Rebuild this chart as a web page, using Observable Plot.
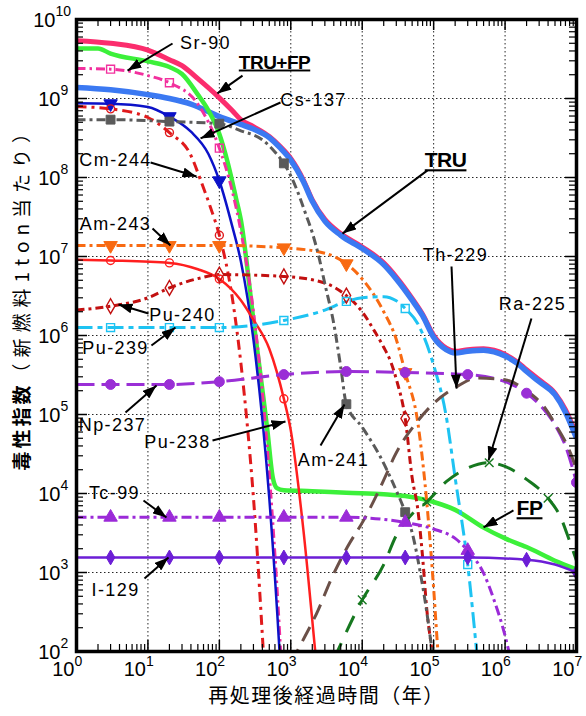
<!DOCTYPE html>
<html><head><meta charset="utf-8">
<script src="https://cdn.jsdelivr.net/npm/d3@7"></script>
<script src="https://cdn.jsdelivr.net/npm/@observablehq/plot@0.6"></script>
<style>body{margin:0;background:#fff;}</style>
</head><body><div id="chart"></div>
<script>
// ---- tick values ----
const X_MAJOR = [1, 10, 100, 1e3, 1e4, 1e5, 1e6, 1e7];
const Y_MAJOR = [1e2, 1e3, 1e4, 1e5, 1e6, 1e7, 1e8, 1e9, 1e10];
const X_GRID = [10, 100, 1e3, 1e4, 1e5, 1e6];
const Y_GRID = [1e3, 1e4, 1e5, 1e6, 1e7, 1e8, 1e9];

// ---- series: [years, toxicity index] ----
const TRU_FP = [[1,5.4e9],[3,5.0e9],[10,4.1e9],[20,3.1e9],[30,2.6e9],[50,1.78e9],[100,1.02e9],[150,7.1e8],[200,5.4e8],[300,4.4e8],[500,3.3e8],[700,2.5e8],[1000,1.74e8],[1500,9.3e7],[2000,5.2e7],[3000,2.95e7],[5000,1.95e7],[1e4,1.32e7],[2e4,8.3e6],[3e4,5.5e6],[5e4,2.95e6],[7e4,1.86e6],[1e5,1.0e6],[1.5e5,6.9e5],[2e5,6.3e5],[3e5,6.6e5],[5e5,6.8e5],[7e5,6.5e5],[1e6,5.75e5],[1.5e6,4.6e5],[2e6,3.7e5],[3e6,2.75e5],[5e6,1.86e5],[7e6,1.15e5],[1e7,5.5e4]];
const TRU = [[1,1.38e9],[3,1.29e9],[10,1.12e9],[20,1.0e9],[40,8.5e8],[100,5.9e8],[200,4.7e8],[300,4.1e8],[500,3.2e8],[700,2.4e8],[1000,1.66e8],[1500,8.9e7],[2000,5.0e7],[3000,2.8e7],[5000,1.86e7],[1e4,1.26e7],[2e4,7.9e6],[3e4,5.2e6],[5e4,2.8e6],[7e4,1.78e6],[1e5,9.5e5],[1.5e5,6.6e5],[2e5,6.0e5],[3e5,6.3e5],[5e5,6.5e5],[7e5,6.2e5],[1e6,5.5e5],[1.5e6,4.4e5],[2e6,3.5e5],[3e6,2.6e5],[5e6,1.78e5],[7e6,1.07e5],[1e7,5.0e4]];
const FP = [[1,4.3e9],[2,4.3e9],[3,3.7e9],[10,2.95e9],[20,2.5e9],[30,2.04e9],[50,1.12e9],[70,7.1e8],[100,3.55e8],[130,1.58e8],[170,5.6e7],[200,2.9e7],[300,1.55e6],[470,6.3e4],[560,1.58e4],[640,1.17e4],[800,1.1e4],[2000,1.07e4],[6000,1.02e4],[2e4,9.8e3],[4e4,9.3e3],[7e4,8.5e3],[1e5,7.8e3],[2e5,6.2e3],[5e5,3.7e3],[1e6,2.7e3],[2e6,2.1e3],[5e6,1.41e3],[1e7,1.1e3]];
const SR90 = [[1,2.4e9],[3,2.35e9],[10,1.95e9],[20,1.58e9],[50,8.5e8],[100,2.35e8],[150,7.0e7],[200,2.1e7],[300,2.0e6],[500,1.78e4],[720,1e2],[800,1.5e1]];
const CS137 = [[1,8.7e8],[3,8.6e8],[10,7.8e8],[20,5.9e8],[40,3.8e8],[70,2.0e8],[100,9.1e7],[150,2.5e7],[200,8.7e6],[300,8.9e5],[500,8.7e3],[700,9e1],[800,9]];
const CM244 = [[1,7.9e8],[3,7.4e8],[10,5.75e8],[20,3.7e8],[40,1.9e8],[55,9.1e7],[75,4.2e7],[100,1.86e7],[150,3.2e6],[200,4.5e5],[250,6.3e4],[300,8.9e3],[400,1.6e2],[450,2.5e1]];
const PU238 = [[1,9.1e6],[3,8.9e6],[20,8.3e6],[50,6.9e6],[100,5.2e6],[200,2.8e6],[300,1.58e6],[500,6.8e5],[800,1.58e5],[1000,6.3e4],[1500,3.5e3],[2200,1e2],[2500,3e1]];
const AM243 = [[1,1.38e7],[3,1.38e7],[20,1.38e7],[100,1.38e7],[800,1.29e7],[3000,1.1e7],[6000,8.1e6],[1e4,5.2e6],[2e4,2.0e6],[3e4,8.9e5],[4e4,3.4e5],[6e4,7.9e4],[8e4,7.9e3],[1e5,6.3e2],[1.15e5,1e2],[1.3e5,3.2e1]];
const PU240 = [[1,2.1e6],[3,2.35e6],[10,3.0e6],[20,4.0e6],[50,5.25e6],[100,5.9e6],[800,5.6e6],[3000,4.6e6],[6000,3.2e6],[1e4,2.0e6],[1.5e4,1.12e6],[2e4,7.1e5],[2.5e4,4.7e5],[3e4,2.8e5],[4e4,8.9e4],[5e4,1.58e4],[6e4,6.3e3],[7e4,1.58e3],[8e4,3.5e2],[9.5e4,1e2],[1.1e5,3.2e1]];
const PU239 = [[1,1.26e6],[3,1.26e6],[20,1.26e6],[100,1.26e6],[800,1.55e6],[3000,2.1e6],[6000,2.7e6],[1e4,3.0e6],[2e4,3.1e6],[3e4,2.75e6],[4e4,2.2e6],[6e4,1.41e6],[1e5,4.2e5],[1.5e5,9.5e4],[2e5,1.58e4],[3e5,1.26e3],[4e5,1e2],[4.5e5,3.2e1]];
const NP237 = [[1,2.4e5],[3,2.4e5],[20,2.4e5],[100,2.6e5],[800,3.2e5],[6000,3.5e5],[4e4,3.4e5],[3e5,3.2e5],[1e6,2.6e5],[2e6,1.86e5],[3e6,1.35e5],[5e6,7.4e4],[7e6,4.0e4],[1e7,1.38e4]];
const AM241 = [[1,5.4e8],[3,5.4e8],[20,5.1e8],[100,4.8e8],[200,3.9e8],[400,3.0e8],[600,2.1e8],[800,1.51e8],[1000,1.05e8],[1300,6.0e7],[1600,3.55e7],[2000,2.0e7],[2500,9.5e6],[3000,4.5e6],[4000,1.41e6],[5000,4.0e5],[6000,1.35e5],[1e4,6.9e4],[1.8e4,2.9e4],[2.7e4,1.35e4],[4e4,5.8e3],[5e4,3.2e3],[6.5e4,1e3],[8e4,3.2e2],[9.5e4,1e2],[1.1e5,3.2e1]];
const TH229 = [[1000,7.1e1],[1400,1.26e2],[2400,3.3e2],[3600,7.9e2],[6200,2.1e3],[1.05e4,4.6e3],[2.2e4,1.78e4],[2.8e4,2.9e4],[6e4,8.3e4],[1e5,1.38e5],[2.2e5,2.3e5],[4e5,2.9e5],[1e6,2.75e5],[2e6,2.0e5],[3.5e6,1.26e5],[5e6,7.6e4],[8.3e6,3.2e4],[1e7,2.0e4]];
const RA225 = [[4000,7.9e1],[4500,1e2],[1e4,4.5e2],[2e4,1.26e3],[3e4,2.95e3],[5e4,5.5e3],[8e4,7.8e3],[1.5e5,1.41e4],[3e5,2.1e4],[6e5,2.45e4],[1e6,2.2e4],[2e6,1.51e4],[4e6,8.7e3],[6e6,5.0e3],[8e6,2.5e3],[1e7,1.41e3]];
const TC99 = [[1,5.0e3],[3,5.0e3],[20,5.0e3],[100,5.0e3],[800,5.0e3],[6000,5.0e3],[4e4,4.3e3],[1e5,3.55e3],[2e5,2.7e3],[3e5,1.9e3],[5e5,9.8e2],[7e5,4.5e2],[1e6,1.58e2],[1.2e6,7.9e1]];
const I129 = [[1,1.55e3],[3,1.55e3],[20,1.55e3],[100,1.55e3],[800,1.55e3],[6000,1.55e3],[4e4,1.55e3],[3e5,1.55e3],[2e6,1.45e3],[5e6,1.26e3],[1e7,1.0e3]];

// ---- marker times per series ----
const MK_EARLY = [3, 20, 100];
const MK_PU238 = [3, 20, 100, 800];
const MK_MID = [3, 20, 100, 800, 6000, 4e4];
const MK_LONG = [3, 20, 100, 800, 6000, 4e4, 3e5];
const MK_FULL = [3, 20, 100, 800, 6000, 4e4, 3e5, 2e6, 1e7];
const MK_RA225 = [1e4, 8e4, 6e5, 4e6];

// ---- annotation labels: [text, x, y] and arrows [x1,y1,x2,y2] ----
const LABELS = [
  ["Sr-90", 64, 4.97e9], ["Cs-137", 2080, 9.44e8], ["Cm-244", 3.52, 1.64e8],
  ["Am-243", 3.52, 2.54e7], ["Pu-240", 30.5, 1.79e6], ["Pu-239", 3.52, 6.84e5],
  ["Np-237", 3.19, 7.26e4], ["Pu-238", 25.9, 4.43e4], ["Am-241", 3960, 2.62e4],
  ["Th-229", 2.02e5, 1.03e7], ["Ra-225", 2.42e6, 2.47e6], ["Tc-99", 3.4, 1e4],
  ["I-129", 3.52, 592]
];
const BOLD_LABELS = [["TRU+FP", 592, 2.86e9], ["TRU", 1.47e5, 1.64e8], ["FP", 2.2e6, 6.46e3]];
const ARROWS = [
  [22.1, 4.97e9, 5.18, 2.26e9], [211, 1.95e9, 94, 1.16e9], [718, 8.9e8, 54.5, 3.12e8],
  [10.9, 1.55e8, 47.9, 1.03e8], [8.2e4, 1.23e8, 5300, 1.95e7], [11.6, 2.26e7, 20.7, 1.38e7],
  [10.2, 1.9e6, 3.87, 2.47e6], [11.2, 7.46e5, 24.3, 1.26e6], [4.85, 1.06e5, 13.2, 2.33e5],
  [80.2, 4.69e4, 843, 8.15e4], [2610, 4.06e4, 5650, 1.34e5], [1.78e5, 7.46e6, 2.09e5, 2.13e5],
  [2.34e6, 1.64e6, 5.86e5, 2.62e4], [8.67, 8.15e3, 18.2, 4.97e3], [8.95, 840, 19.4, 1.55e3],
  [1.31e6, 6.1e3, 4.99e5, 3.72e3]
];
const Y_TITLE_MAIN = "毒性指数";
const Y_TITLE_SUB = "（新燃料1ton当たり）";
const X_TITLE = "再処理後経過時間（年）";

// custom downward triangle symbol
const triDown = {draw(ctx, size) {
  const y = Math.sqrt(size / (Math.sqrt(3) * 3));
  ctx.moveTo(0, 2 * y); ctx.lineTo(-Math.sqrt(3) * y, -y); ctx.lineTo(Math.sqrt(3) * y, -y); ctx.closePath();
}};

const SERIES = [
  {d: TRU_FP, c: "#fb2d6d", w: 5},
  {d: TRU, c: "#3b79f2", w: 5.5},
  {d: FP, c: "#3cf03a", w: 4.5},
  {d: SR90, c: "#f2309e", w: 3, dash: "9,4,2.5,4", mk: MK_EARLY, sym: "square", fill: "none", r: 4.5},
  {d: CS137, c: "#0c12c8", w: 2.5, mk: MK_EARLY, sym: triDown, fill: "#0c12c8", r: 5},
  {d: CM244, c: "#e01a1c", w: 3, dash: "10,5,3,5", mk: MK_EARLY, sym: "circle", fill: "none", r: 4},
  {d: PU238, c: "#ff1f1f", w: 2.5, mk: MK_PU238, sym: "circle", fill: "none", r: 4},
  {d: AM243, c: "#f86a12", w: 3, dash: "9,4,3,4", mk: MK_MID, sym: triDown, fill: "#f86a12", r: 5},
  {d: PU240, c: "#c21010", w: 3, dash: "8,4,3,4", mk: MK_MID, sym: "diamond", fill: "none", r: 4.5},
  {d: PU239, c: "#1ec3f2", w: 3, dash: "16,5,5,5", mk: MK_LONG, sym: "square", fill: "none", r: 4.5},
  {d: NP237, c: "#9a2fd6", w: 3, dash: "18,7", mk: MK_FULL, sym: "circle", fill: "#9a2fd6", r: 5},
  {d: AM241, c: "#5a5a5a", w: 3, dash: "9,4,3,4", mk: MK_MID, sym: "square", fill: "#5a5a5a", r: 5},
  {d: TH229, c: "#6b5048", w: 3, dash: "16,9"},
  {d: RA225, c: "#16781f", w: 3, dash: "18,12", mk: MK_RA225, sym: "times", fill: "none", r: 4},
  {d: TC99, c: "#9b2ad8", w: 3, dash: "10,4,3,4", mk: MK_LONG, sym: "triangle", fill: "#9b2ad8", r: 5},
  {d: I129, c: "#6c1ed6", w: 2.5, mk: MK_FULL, sym: "diamond", fill: "#6c1ed6", r: 4.5}
];

function decadeMinors(lo, hi) {
  const out = [];
  for (let e = lo; e < hi; e++) for (let k = 2; k <= 9; k++) out.push(k * 10 ** e);
  return out;
}
const X_MINOR = decadeMinors(0, 7);
const Y_MINOR = decadeMinors(2, 10);

const W = 586, H = 716, ML = 76, MR = 10, MT = 19, MB = 65;
const FW = W - ML - MR, FH = H - MT - MB;

const lineMarks = SERIES.map(s => Plot.line(s.d, {
  x: d => d[0], y: d => d[1], stroke: s.c, strokeWidth: s.w,
  strokeDasharray: s.dash, curve: "monotone-x", clip: true, strokeLinecap: "butt"
}));
const dotMarks = SERIES.filter(s => s.mk).map(s => Plot.dot(s.d.filter(d => s.mk.includes(d[0])), {
  x: d => d[0], y: d => d[1], symbol: s.sym, r: s.r,
  fill: s.fill, stroke: s.c, strokeWidth: s.fill === "none" ? 1.4 : 1, clip: true
}));

// inward ticks on all four sides
const tickMarks = [];
for (const [vals, len, sw] of [[X_MINOR, 7, 1.2], [X_MAJOR, 11, 1.5]]) {
  tickMarks.push(Plot.tickX(vals, {x: d => d, insetTop: FH - len, stroke: "black", strokeWidth: sw}));
  tickMarks.push(Plot.tickX(vals, {x: d => d, insetBottom: FH - len, stroke: "black", strokeWidth: sw}));
}
for (const [vals, len, sw] of [[Y_MINOR, 7, 1.2], [Y_MAJOR, 11, 1.5]]) {
  tickMarks.push(Plot.tickY(vals, {y: d => d, insetRight: FW - len, stroke: "black", strokeWidth: sw}));
  tickMarks.push(Plot.tickY(vals, {y: d => d, insetLeft: FW - len, stroke: "black", strokeWidth: sw}));
}

const expo = d => String(Math.round(Math.log10(d)));
const tickFont = "Liberation Sans, Arial, sans-serif";
const Y_LOW = Y_MAJOR.filter(d => d < 1e10), Y_TOP = Y_MAJOR.filter(d => d >= 1e10);

const plot = Plot.plot({
  width: W, height: H, marginLeft: ML, marginRight: MR, marginTop: MT, marginBottom: MB,
  style: {fontFamily: tickFont, background: "white", color: "black"},
  x: {type: "log", domain: [1, 1e7], axis: null},
  y: {type: "log", domain: [1e2, 1e10], axis: null},
  marks: [
    Plot.gridX(X_GRID, {stroke: "#000", strokeOpacity: 0.85, strokeDasharray: "1.5,2.5", strokeWidth: 1}),
    Plot.gridY(Y_GRID, {stroke: "#000", strokeOpacity: 0.85, strokeDasharray: "1.5,2.5", strokeWidth: 1}),
    ...lineMarks,
    ...dotMarks,
    ...tickMarks,
    Plot.frame({stroke: "black", strokeWidth: 3.5}),
    // tick labels: base "10" and superscript exponent
    Plot.text(X_MAJOR, {x: d => d, frameAnchor: "bottom", lineAnchor: "bottom", textAnchor: "end", dx: -2, dy: 24, text: () => "10", fontSize: 20, fill: "black"}),
    Plot.text(X_MAJOR, {x: d => d, frameAnchor: "bottom", lineAnchor: "bottom", textAnchor: "start", dx: -2, dy: 14, text: expo, fontSize: 14, fill: "black"}),
    Plot.text(Y_LOW, {y: d => d, frameAnchor: "left", textAnchor: "end", dx: -16, dy: 1, text: () => "10", fontSize: 20, fill: "black"}),
    Plot.text(Y_LOW, {y: d => d, frameAnchor: "left", textAnchor: "start", dx: -16, dy: -8, text: expo, fontSize: 14, fill: "black"}),
    Plot.text(Y_TOP, {y: d => d, frameAnchor: "left", textAnchor: "end", dx: -21, dy: 1, text: () => "10", fontSize: 20, fill: "black"}),
    Plot.text(Y_TOP, {y: d => d, frameAnchor: "left", textAnchor: "start", dx: -21, dy: -8, text: expo, fontSize: 14, fill: "black"}),
    // annotations
    Plot.link(ARROWS, {x1: d => d[0], y1: d => d[1], x2: d => d[2], y2: d => d[3], stroke: "black", strokeWidth: 2}),
    Plot.text(LABELS, {x: d => d[1], y: d => d[2], text: d => d[0], fontSize: 18, fill: "black"}),
    Plot.text(BOLD_LABELS, {x: d => d[1], y: d => d[2], text: d => d[0], fontSize: d => d[0] === "TRU+FP" ? 19 : 21, fontWeight: "bold", fill: "black"}),
    // axis titles
    Plot.text([Y_TITLE_MAIN], {frameAnchor: "left", dx: -54, dy: 135, rotate: -90, textAnchor: "start", fontSize: 19, fontWeight: "bold", fontFamily: "Noto Sans CJK JP", fill: "black"}),
    Plot.text([Y_TITLE_SUB], {frameAnchor: "left", dx: -54, dy: 47, rotate: -90, textAnchor: "start", fontSize: 19, fontFamily: "Noto Sans CJK JP", fill: "black"}),
    Plot.text([X_TITLE], {frameAnchor: "bottom", dy: 51, fontSize: 20, fontFamily: "Noto Sans CJK JP", fill: "black"})
  ]
});

// text styling that Plot.text has no option for, matched on the text content
const svg = d3.select(plot);
const labelSet = new Set(LABELS.map(d => d[0]));
const boldSet = new Set(BOLD_LABELS.map(d => d[0]));
svg.selectAll("text").each(function() {
  const s = this.textContent;
  if (labelSet.has(s)) this.setAttribute("letter-spacing", "1.4");
  else if (boldSet.has(s)) { this.setAttribute("letter-spacing", "-0.5"); this.setAttribute("text-decoration", "underline"); }
  else if (s === Y_TITLE_MAIN) this.setAttribute("letter-spacing", "3");
  else if (s === Y_TITLE_SUB) this.setAttribute("letter-spacing", "6");
  else if (s === X_TITLE) this.setAttribute("letter-spacing", "1.5");
});
// filled arrow heads on the link mark
const defs = svg.insert("defs", ":first-child");
defs.append("marker").attr("id", "ahead").attr("viewBox", "0 -5 14 10")
  .attr("refX", 14).attr("refY", 0).attr("markerWidth", 14).attr("markerHeight", 10)
  .attr("markerUnits", "userSpaceOnUse").attr("orient", "auto")
  .append("path").attr("d", "M0,-5L14,0L0,5Z").attr("fill", "black");
svg.selectAll('g[aria-label="link"] path').attr("marker-end", "url(#ahead)");

document.getElementById("chart").appendChild(plot);
</script></body></html>
